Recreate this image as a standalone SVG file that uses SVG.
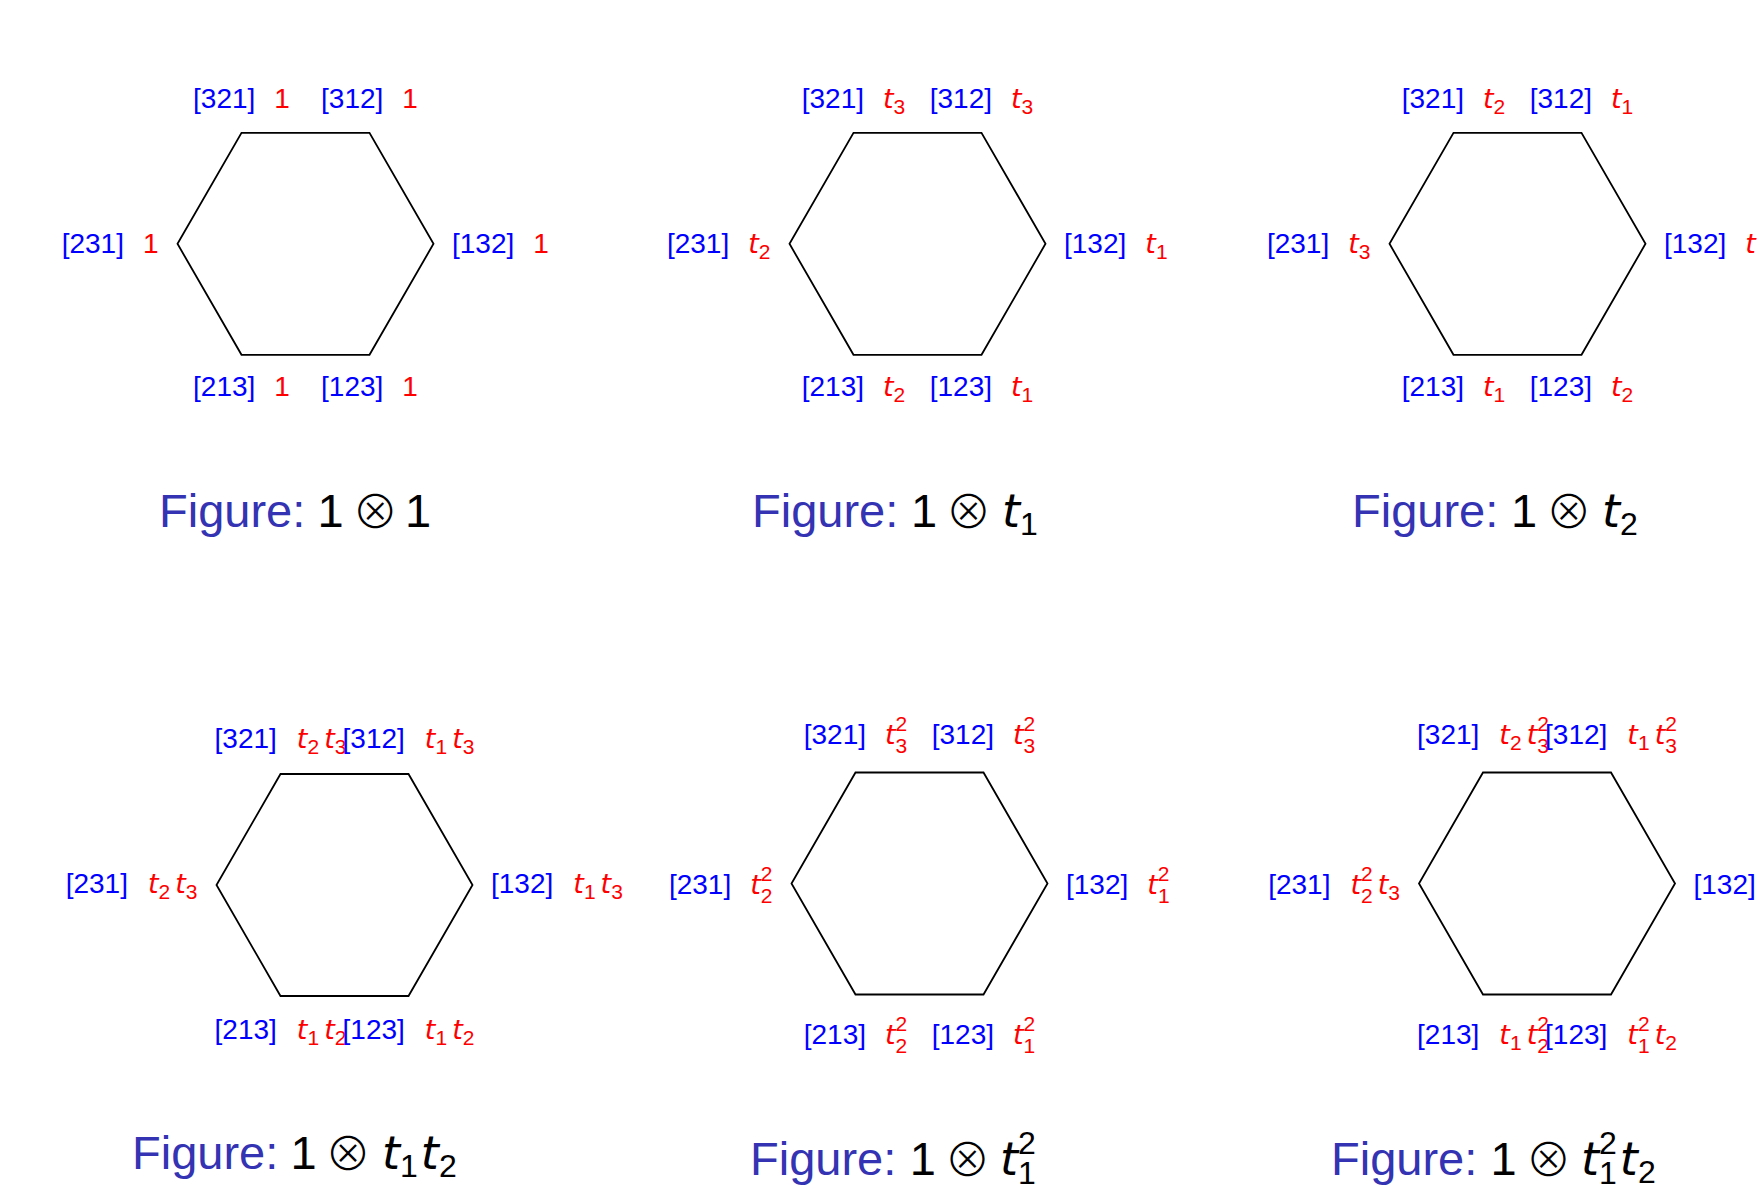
<svg xmlns="http://www.w3.org/2000/svg" xmlns:xlink="http://www.w3.org/1999/xlink" width="1762" height="1189" viewBox="0 0 1762 1189">
<style>
.hex{fill:none;stroke:#000;stroke-width:1.8;stroke-linejoin:miter}
.lb{font-family:"Liberation Sans",Arial,sans-serif;font-size:28px}
.b{fill:#0000FF}
.r{fill:#FF0000}
.t{font-family:"DejaVu Sans",sans-serif;font-style:italic;font-size:27px}
.s{font-family:"Liberation Sans",Arial,sans-serif;font-size:21px;font-style:normal}
.cap{font-family:"Liberation Sans",Arial,sans-serif;font-size:47px}
.fig{fill:#3333B3}
.m{fill:#000}
.ot{font-family:"Noto Sans CJK JP","Noto Sans CJK SC","DejaVu Sans",sans-serif;font-size:46px;font-weight:300;fill:#000}
.ct{font-family:"DejaVu Sans",sans-serif;font-style:italic;font-size:46px}
.cs{font-family:"Liberation Sans",Arial,sans-serif;font-size:32px;font-style:normal}
</style>
<defs>
<polygon id="hex" class="hex" points="-64,-111 64,-111 128,0 64,111 -64,111 -128,0"/>
</defs>
<rect width="1762" height="1189" fill="#fff"/>

<g id="panel1">
<use xlink:href="#hex" x="305.5" y="243.8"/>
<text class="lb" x="241.5" y="107.5" text-anchor="middle"><tspan class="b">[321]</tspan><tspan class="r" dx="19">1</tspan></text>
<text class="lb" x="369.5" y="107.5" text-anchor="middle"><tspan class="b">[312]</tspan><tspan class="r" dx="19">1</tspan></text>
<text class="lb" x="158.5" y="252.5" text-anchor="end"><tspan class="b">[231]</tspan><tspan class="r" dx="19">1</tspan></text>
<text class="lb" x="452" y="252.5" text-anchor="start"><tspan class="b">[132]</tspan><tspan class="r" dx="19">1</tspan></text>
<text class="lb" x="241.5" y="396" text-anchor="middle"><tspan class="b">[213]</tspan><tspan class="r" dx="19">1</tspan></text>
<text class="lb" x="369.5" y="396" text-anchor="middle"><tspan class="b">[123]</tspan><tspan class="r" dx="19">1</tspan></text>
<text class="cap fig" x="159" y="527">Figure:</text>
<text class="cap m" x="317.5" y="527">1</text>
<text class="ot" x="375.3" y="528" text-anchor="middle">⊗</text>
<text class="cap m" x="405" y="527">1</text>
</g>

<g id="panel2">
<use xlink:href="#hex" x="917.5" y="243.8"/>
<text class="lb" x="853.5" y="107.5" text-anchor="middle"><tspan class="b">[321]</tspan><tspan class="r t" dx="19">t</tspan><tspan class="r s" dy="6">3</tspan></text>
<text class="lb" x="981.5" y="107.5" text-anchor="middle"><tspan class="b">[312]</tspan><tspan class="r t" dx="19">t</tspan><tspan class="r s" dy="6">3</tspan></text>
<text class="lb" x="770.5" y="252.5" text-anchor="end"><tspan class="b">[231]</tspan><tspan class="r t" dx="19">t</tspan><tspan class="r s" dy="6">2</tspan></text>
<text class="lb" x="1064" y="252.5" text-anchor="start"><tspan class="b">[132]</tspan><tspan class="r t" dx="19">t</tspan><tspan class="r s" dy="6">1</tspan></text>
<text class="lb" x="853.5" y="396" text-anchor="middle"><tspan class="b">[213]</tspan><tspan class="r t" dx="19">t</tspan><tspan class="r s" dy="6">2</tspan></text>
<text class="lb" x="981.5" y="396" text-anchor="middle"><tspan class="b">[123]</tspan><tspan class="r t" dx="19">t</tspan><tspan class="r s" dy="6">1</tspan></text>
<text class="cap fig" x="752" y="527">Figure:</text>
<text class="cap m" x="911" y="527">1</text>
<text class="ot" x="968.6" y="528" text-anchor="middle">⊗</text>
<text class="cap m" x="1002" y="527"><tspan class="ct">t</tspan><tspan class="cs" dy="8">1</tspan></text>
</g>

<g id="panel3">
<use xlink:href="#hex" x="1517.5" y="243.8"/>
<text class="lb" x="1453.5" y="107.5" text-anchor="middle"><tspan class="b">[321]</tspan><tspan class="r t" dx="19">t</tspan><tspan class="r s" dy="6">2</tspan></text>
<text class="lb" x="1581.5" y="107.5" text-anchor="middle"><tspan class="b">[312]</tspan><tspan class="r t" dx="19">t</tspan><tspan class="r s" dy="6">1</tspan></text>
<text class="lb" x="1370.5" y="252.5" text-anchor="end"><tspan class="b">[231]</tspan><tspan class="r t" dx="19">t</tspan><tspan class="r s" dy="6">3</tspan></text>
<text class="lb" x="1664" y="252.5" text-anchor="start"><tspan class="b">[132]</tspan><tspan class="r t" dx="19">t</tspan></text>
<text class="lb" x="1453.5" y="396" text-anchor="middle"><tspan class="b">[213]</tspan><tspan class="r t" dx="19">t</tspan><tspan class="r s" dy="6">1</tspan></text>
<text class="lb" x="1581.5" y="396" text-anchor="middle"><tspan class="b">[123]</tspan><tspan class="r t" dx="19">t</tspan><tspan class="r s" dy="6">2</tspan></text>
<text class="cap fig" x="1352" y="527">Figure:</text>
<text class="cap m" x="1511" y="527">1</text>
<text class="ot" x="1568.7" y="528" text-anchor="middle">⊗</text>
<text class="cap m" x="1602" y="527"><tspan class="ct">t</tspan><tspan class="cs" dy="8">2</tspan></text>
</g>

<g id="panel4">
<use xlink:href="#hex" x="344.5" y="885"/>
<text class="lb" x="280.5" y="748" text-anchor="middle"><tspan class="b">[321]</tspan><tspan class="r t" dx="20">t</tspan><tspan class="r s" dy="6">2</tspan><tspan class="r t" dx="5" dy="-6">t</tspan><tspan class="r s" dy="6">3</tspan></text>
<text class="lb" x="408.5" y="748" text-anchor="middle"><tspan class="b">[312]</tspan><tspan class="r t" dx="20">t</tspan><tspan class="r s" dy="6">1</tspan><tspan class="r t" dx="5" dy="-6">t</tspan><tspan class="r s" dy="6">3</tspan></text>
<text class="lb" x="197.5" y="892.5" text-anchor="end"><tspan class="b">[231]</tspan><tspan class="r t" dx="20">t</tspan><tspan class="r s" dy="6">2</tspan><tspan class="r t" dx="5" dy="-6">t</tspan><tspan class="r s" dy="6">3</tspan></text>
<text class="lb" x="491" y="892.5" text-anchor="start"><tspan class="b">[132]</tspan><tspan class="r t" dx="20">t</tspan><tspan class="r s" dy="6">1</tspan><tspan class="r t" dx="5" dy="-6">t</tspan><tspan class="r s" dy="6">3</tspan></text>
<text class="lb" x="280.5" y="1038.5" text-anchor="middle"><tspan class="b">[213]</tspan><tspan class="r t" dx="20">t</tspan><tspan class="r s" dy="6">1</tspan><tspan class="r t" dx="5" dy="-6">t</tspan><tspan class="r s" dy="6">2</tspan></text>
<text class="lb" x="408.5" y="1038.5" text-anchor="middle"><tspan class="b">[123]</tspan><tspan class="r t" dx="20">t</tspan><tspan class="r s" dy="6">1</tspan><tspan class="r t" dx="5" dy="-6">t</tspan><tspan class="r s" dy="6">2</tspan></text>
<text class="cap fig" x="132" y="1169">Figure:</text>
<text class="cap m" x="290.5" y="1169">1</text>
<text class="ot" x="348" y="1170" text-anchor="middle">⊗</text>
<text class="cap m" x="382" y="1169"><tspan class="ct">t</tspan><tspan class="cs" dy="8">1</tspan><tspan class="ct" dx="3" dy="-8">t</tspan><tspan class="cs" dy="8">2</tspan></text>
</g>

<g id="panel5">
<use xlink:href="#hex" x="919.5" y="883.5"/>
<text class="lb" x="855.5" y="744" text-anchor="middle"><tspan class="b">[321]</tspan><tspan class="r t" dx="19">t</tspan><tspan class="r s" dy="9">3</tspan><tspan class="r s" dx="-11.7" dy="-22">2</tspan></text>
<text class="lb" x="983.5" y="744" text-anchor="middle"><tspan class="b">[312]</tspan><tspan class="r t" dx="19">t</tspan><tspan class="r s" dy="9">3</tspan><tspan class="r s" dx="-11.7" dy="-22">2</tspan></text>
<text class="lb" x="772.5" y="893.5" text-anchor="end"><tspan class="b">[231]</tspan><tspan class="r t" dx="19">t</tspan><tspan class="r s" dy="9">2</tspan><tspan class="r s" dx="-11.7" dy="-22">2</tspan></text>
<text class="lb" x="1066" y="893.5" text-anchor="start"><tspan class="b">[132]</tspan><tspan class="r t" dx="19">t</tspan><tspan class="r s" dy="9">1</tspan><tspan class="r s" dx="-11.7" dy="-22">2</tspan></text>
<text class="lb" x="855.5" y="1043.5" text-anchor="middle"><tspan class="b">[213]</tspan><tspan class="r t" dx="19">t</tspan><tspan class="r s" dy="9">2</tspan><tspan class="r s" dx="-11.7" dy="-22">2</tspan></text>
<text class="lb" x="983.5" y="1043.5" text-anchor="middle"><tspan class="b">[123]</tspan><tspan class="r t" dx="19">t</tspan><tspan class="r s" dy="9">1</tspan><tspan class="r s" dx="-11.7" dy="-22">2</tspan></text>
<text class="cap fig" x="750" y="1175">Figure:</text>
<text class="cap m" x="909.7" y="1175">1</text>
<text class="ot" x="967.5" y="1176" text-anchor="middle">⊗</text>
<text class="cap m" x="1000" y="1175"><tspan class="ct">t</tspan><tspan class="cs" dy="9">1</tspan><tspan class="cs" dx="-17.8" dy="-30">2</tspan></text>
</g>

<g id="panel6">
<use xlink:href="#hex" x="1547" y="883.5"/>
<text class="lb" x="1483" y="744" text-anchor="middle"><tspan class="b">[321]</tspan><tspan class="r t" dx="20">t</tspan><tspan class="r s" dy="6">2</tspan><tspan class="r t" dx="5" dy="-6">t</tspan><tspan class="r s" dy="9">3</tspan><tspan class="r s" dx="-11.7" dy="-22">2</tspan></text>
<text class="lb" x="1611" y="744" text-anchor="middle"><tspan class="b">[312]</tspan><tspan class="r t" dx="20">t</tspan><tspan class="r s" dy="6">1</tspan><tspan class="r t" dx="5" dy="-6">t</tspan><tspan class="r s" dy="9">3</tspan><tspan class="r s" dx="-11.7" dy="-22">2</tspan></text>
<text class="lb" x="1400" y="893.5" text-anchor="end"><tspan class="b">[231]</tspan><tspan class="r t" dx="20">t</tspan><tspan class="r s" dy="9">2</tspan><tspan class="r s" dx="-11.7" dy="-22">2</tspan><tspan class="r t" dx="5" dy="13">t</tspan><tspan class="r s" dy="6">3</tspan></text>
<text class="lb b" x="1693.5" y="893.5" text-anchor="start">[132]</text>
<text class="lb" x="1483" y="1043.5" text-anchor="middle"><tspan class="b">[213]</tspan><tspan class="r t" dx="20">t</tspan><tspan class="r s" dy="6">1</tspan><tspan class="r t" dx="5" dy="-6">t</tspan><tspan class="r s" dy="9">2</tspan><tspan class="r s" dx="-11.7" dy="-22">2</tspan></text>
<text class="lb" x="1611" y="1043.5" text-anchor="middle"><tspan class="b">[123]</tspan><tspan class="r t" dx="20">t</tspan><tspan class="r s" dy="9">1</tspan><tspan class="r s" dx="-11.7" dy="-22">2</tspan><tspan class="r t" dx="5" dy="13">t</tspan><tspan class="r s" dy="6">2</tspan></text>
<text class="cap fig" x="1331" y="1175">Figure:</text>
<text class="cap m" x="1490.6" y="1175">1</text>
<text class="ot" x="1548.5" y="1176" text-anchor="middle">⊗</text>
<text class="cap m" x="1581" y="1175"><tspan class="ct">t</tspan><tspan class="cs" dy="9">1</tspan><tspan class="cs" dx="-17.8" dy="-30">2</tspan><tspan class="ct" dx="3" dy="21">t</tspan><tspan class="cs" dy="8">2</tspan></text>
</g>
</svg>
